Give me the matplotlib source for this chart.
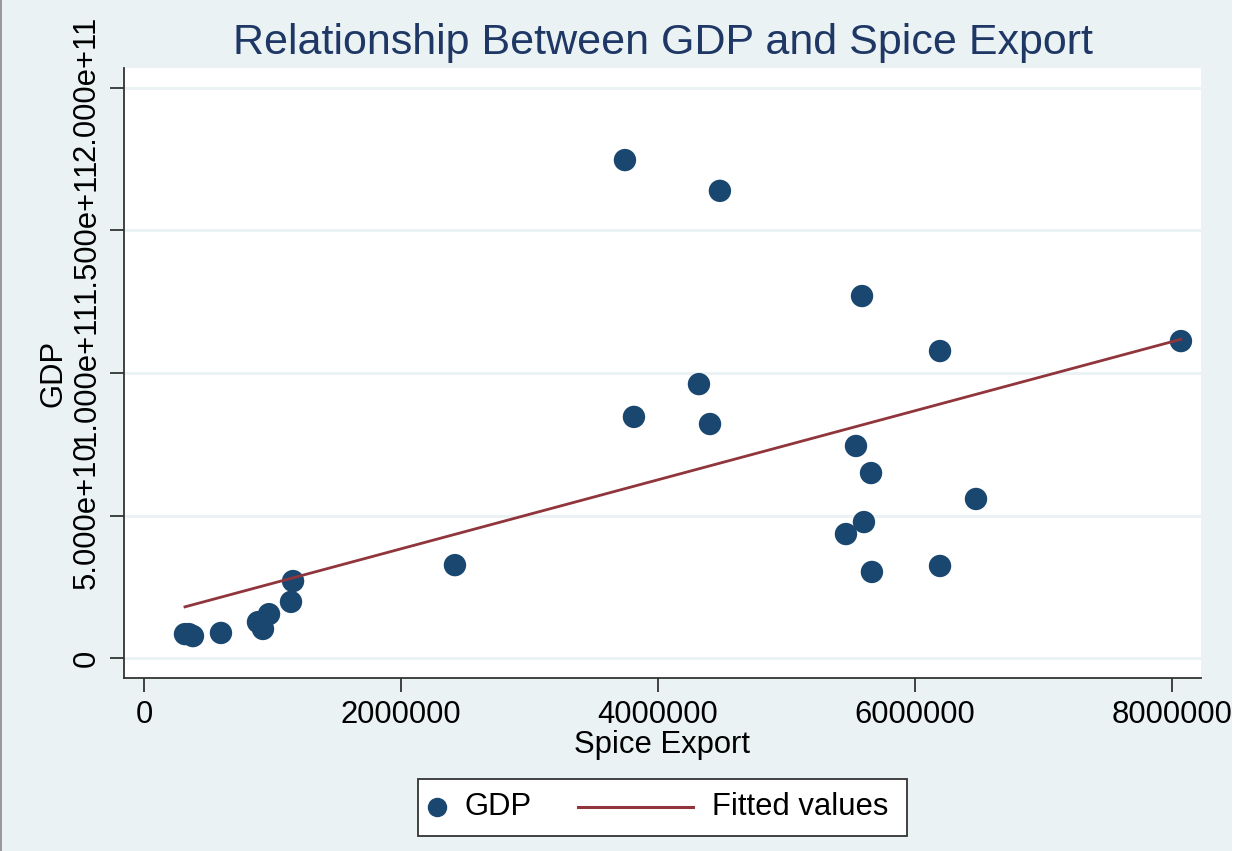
import numpy as np
import matplotlib
matplotlib.use("Agg")
import matplotlib.pyplot as plt
from matplotlib.lines import Line2D
from matplotlib.patches import Rectangle

plt.rcParams['font.family'] = ['Liberation Sans', 'DejaVu Sans']

spice_export = [3743000, 4482000, 5588000, 6195000, 8070000, 4319000, 3813000,
                4405000, 5541000, 5658000, 6475000, 5603000, 5463000, 5665000,
                6195000, 2420000, 1160000, 1144000, 973000, 887000, 926000,
                319000, 350000, 381000, 599000]
gdp = [1.747e11, 1.639e11, 1.270e11, 1.077e11, 1.112e11, 9.61e10, 8.46e10,
       8.21e10, 7.44e10, 6.49e10, 5.58e10, 4.77e10, 4.35e10, 3.02e10,
       3.23e10, 3.26e10, 2.70e10, 1.97e10, 1.54e10, 1.26e10, 1.02e10,
       8.4e9, 8.4e9, 7.7e9, 8.8e9]

x_ticks = [0, 2000000, 4000000, 6000000, 8000000]
y_ticks = [0, 5e10, 1e11, 1.5e11, 2e11]
y_tick_labels = ["0", "5.000e+10", "1.000e+11", "1.500e+11", "2.000e+11"]
legend_labels = ["GDP", "Fitted values"]

navy = "#1a476f"
maroon = "#90353b"
bg = "#eaf2f3"
axis_col = "#333333"
fs = 22.3

x = np.array(spice_export, dtype=float)
y = np.array(gdp, dtype=float)
slope, intercept = np.polyfit(x, y, 1)
xfit = np.array([x.min(), x.max()])
yfit = intercept + slope * xfit

W, H = 1238, 851
fig = plt.figure(figsize=(W / 100, H / 100), dpi=100)
fig.patch.set_facecolor(bg)


def fx(px):
    return px / W


def fy(py):
    return 1 - py / H


ax = fig.add_axes([fx(124), fy(678), (1201 - 124) / W, (678 - 68) / H])
ax.set_facecolor("white")

ax.scatter(x, y, s=260, color=navy, edgecolors="none", zorder=3)
ax.plot(xfit, yfit, color=maroon, lw=2, zorder=4)

ax.set_xlim(-155600, 8226000)
ax.set_ylim(-7e9, 2.07e11)

ax.set_xticks(x_ticks)
ax.set_xticklabels([str(v) for v in x_ticks])
ax.set_yticks(y_ticks)
ax.set_yticklabels(y_tick_labels, rotation=90, va="center")

ax.grid(axis="y", color=bg, lw=2, zorder=0)
ax.set_axisbelow(True)

for side in ("top", "right"):
    ax.spines[side].set_visible(False)
for side in ("left", "bottom"):
    ax.spines[side].set_color(axis_col)
    ax.spines[side].set_linewidth(1.3)

ax.tick_params(axis="both", direction="out", length=10, width=1.3,
               color=axis_col, labelsize=fs, labelcolor="black", pad=6)

ax.set_xlabel("Spice Export", fontsize=fs, labelpad=0)
ax.set_ylabel("GDP", fontsize=fs, labelpad=2)

fig.text(fx(663), fy(43), "Relationship Between GDP and Spice Export",
         ha="center", va="center", fontsize=31, color="#1e3765")

# legend box drawn below the plot region
fig.add_artist(Rectangle((fx(418), fy(836)), (907 - 418) / W, (836 - 779) / H,
                         transform=fig.transFigure, facecolor="white",
                         edgecolor=axis_col, lw=1.3))
fig.add_artist(Line2D([fx(437)], [fy(807)], marker="o", ls="none",
                      color=navy, markersize=13, transform=fig.transFigure))
fig.text(fx(464), fy(807), legend_labels[0], ha="left", va="center",
         fontsize=fs, color="black")
fig.add_artist(Line2D([fx(578), fx(693)], [fy(807), fy(807)], color=maroon,
                      lw=2.2, transform=fig.transFigure))
fig.text(fx(712), fy(807), legend_labels[1], ha="left", va="center",
         fontsize=fs, color="black")

# outer frame details
fig.add_artist(Rectangle((0, 0), 2 / W, 1, transform=fig.transFigure,
                         color="#9a9a9a", lw=0))
fig.add_artist(Rectangle((fx(1232), 0), 6 / W, 1, transform=fig.transFigure,
                         color="white", lw=0))

fig.savefig("out.png", dpi=100, facecolor=fig.get_facecolor())
